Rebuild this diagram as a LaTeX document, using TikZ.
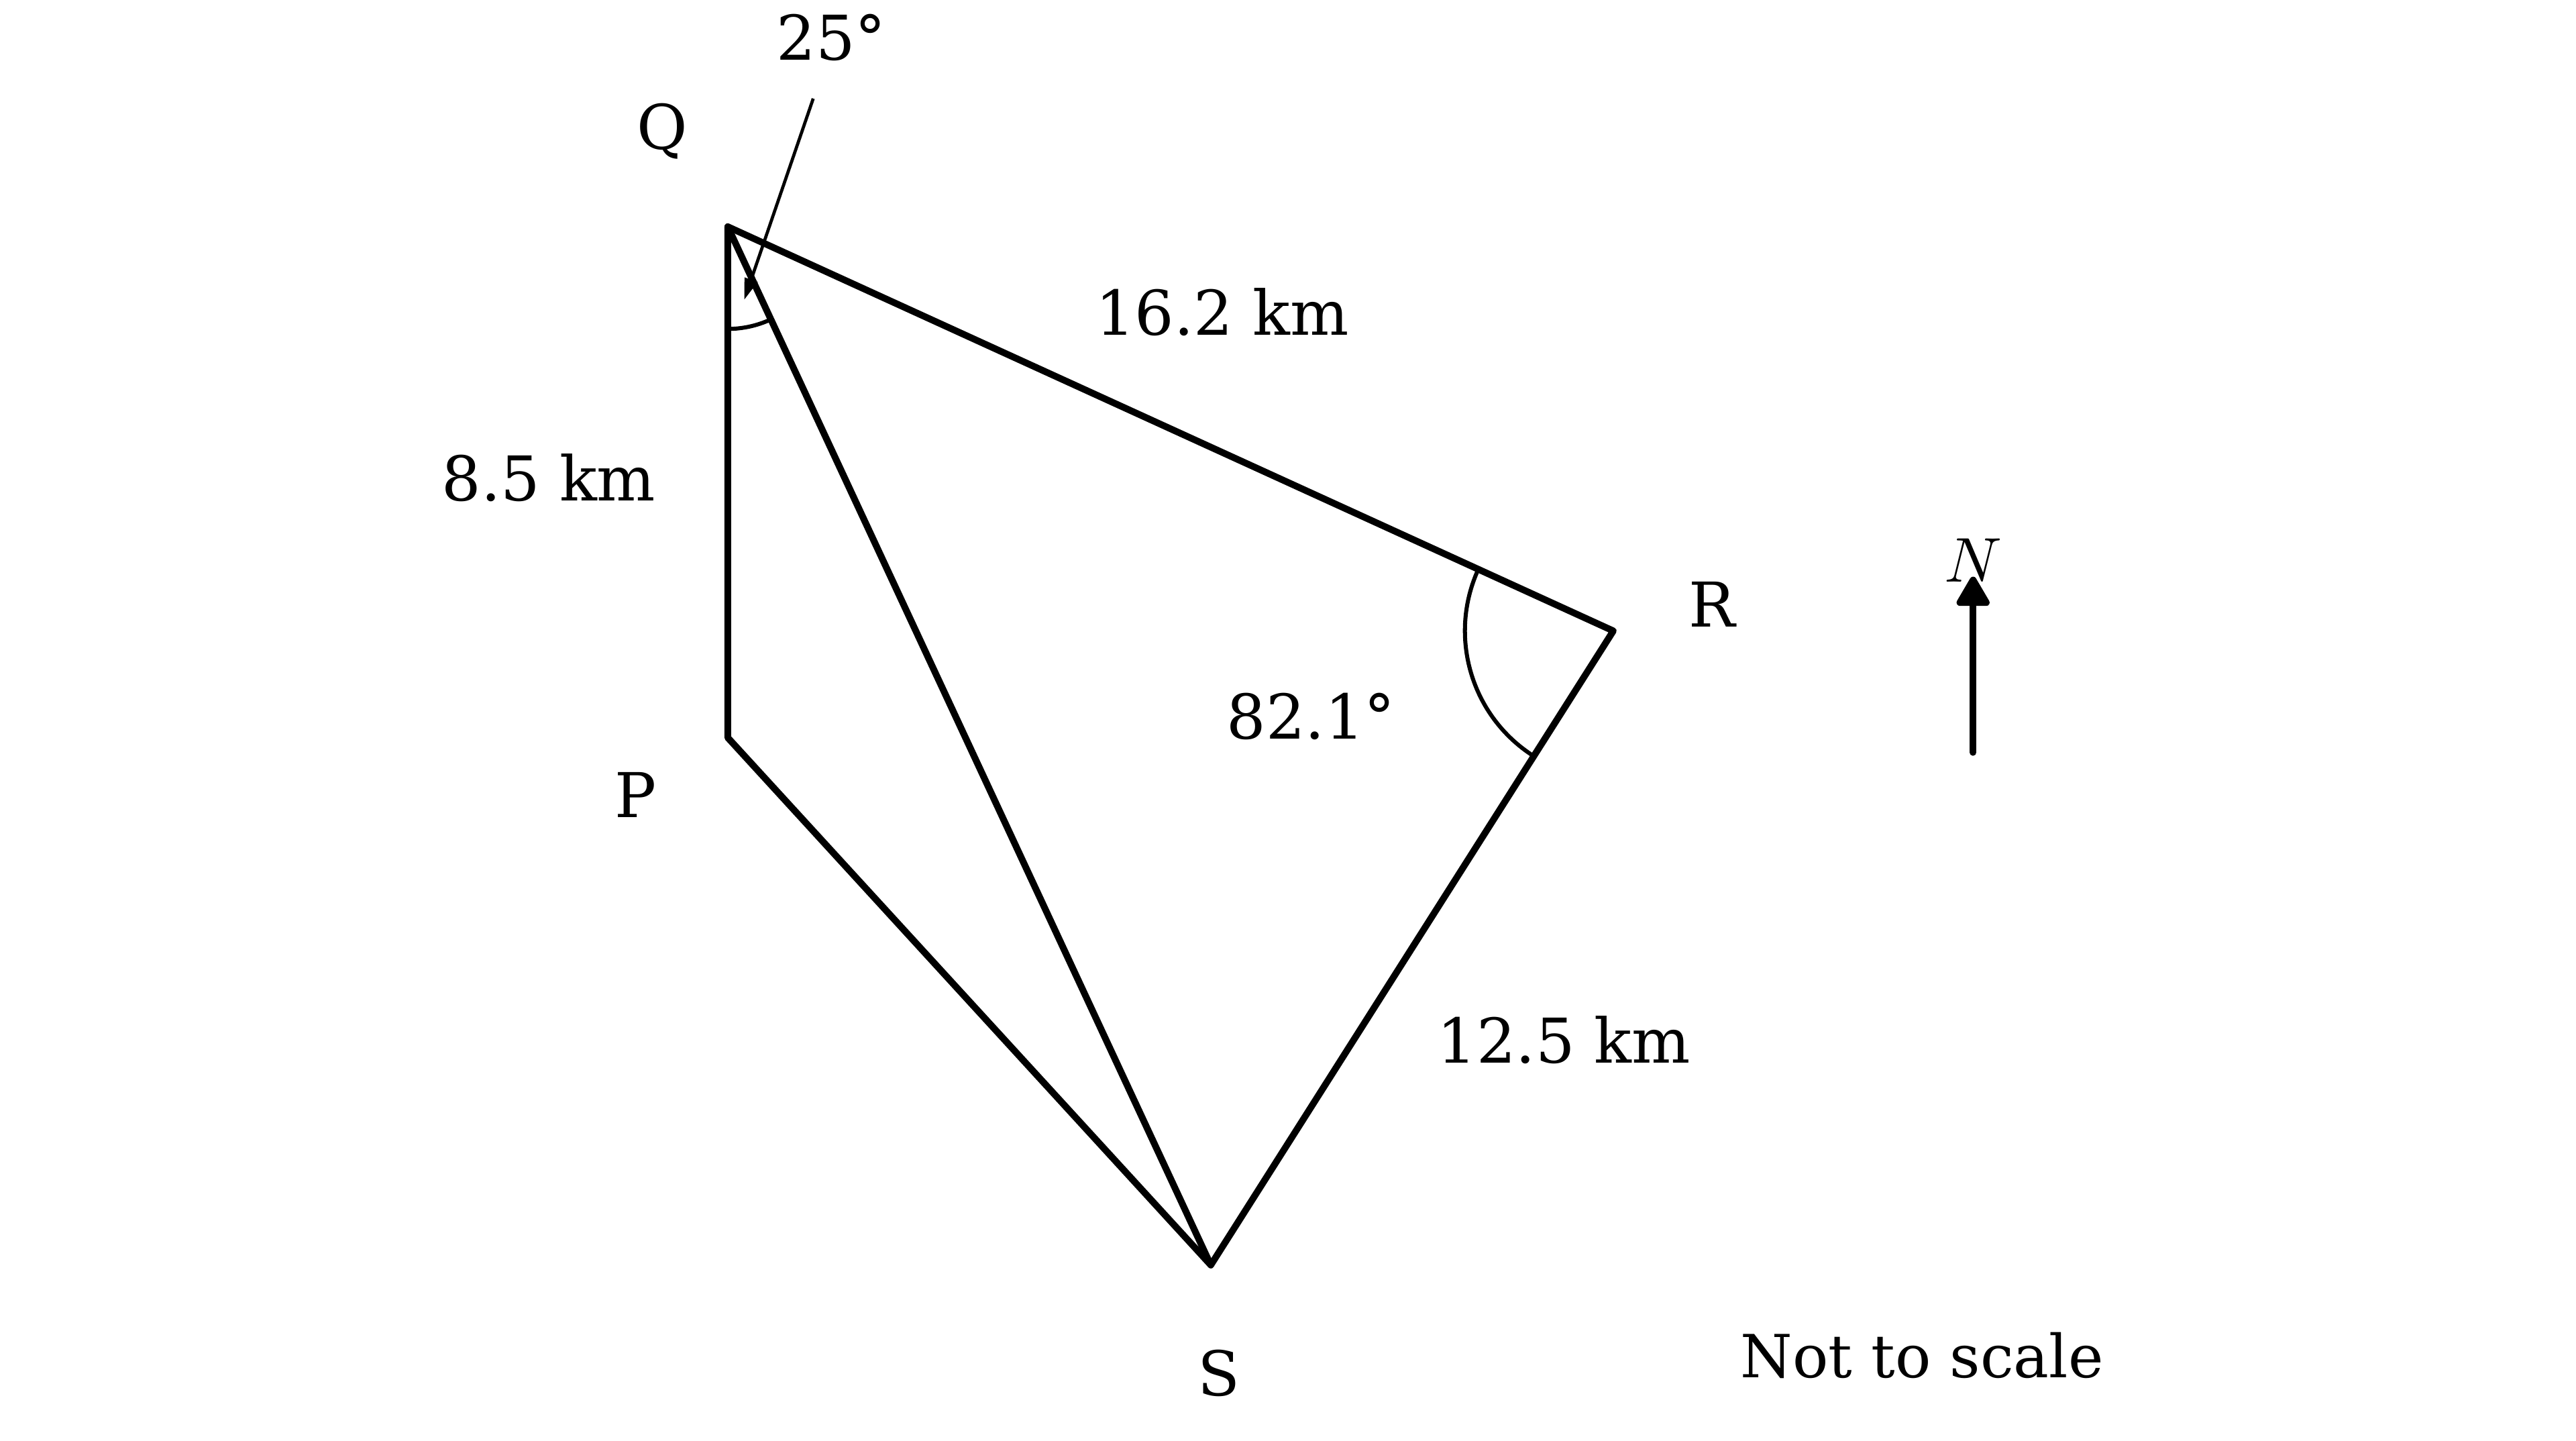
\documentclass[tikz,border=0pt]{standalone}
\usepackage{amsmath}
\usepackage{fontspec}
\setmainfont{DejaVu Serif}
\usepackage{tikz}
\usetikzlibrary{arrows.meta, calc, angles}

\tikzset{
    side/.style={line width=1.16pt, line join=round, line cap=round},
    mark arc/.style={draw, line width=0.7pt},
    lbl/.style={font=\fontsize{10.7}{12.8}\selectfont, inner sep=0pt}
}

\begin{document}
\begin{tikzpicture}
    \useasboundingbox (0,0) rectangle (15.68,8.77);

    % Points of the route
    \coordinate (Q) at (4.43,7.39);
    \coordinate (P) at (4.43,4.28);
    \coordinate (S) at (7.37,1.07);
    \coordinate (R) at (9.82,4.93);

    % Quadrilateral and diagonal
    \draw[side] (P) -- (Q) -- (R) -- (S) -- cycle;
    \draw[side] (Q) -- (S);

    % Angles
    \pic[mark arc, angle radius=17.7pt] {angle = P--Q--S};
    \pic[mark arc, angle radius=25.7pt] {angle = Q--R--S};

    % Vertex labels
    \node[lbl] (labQ) at (4.03,7.97) {$\mathrm{Q}$};
    \node[lbl] (labP) at (3.87,3.93) {$\mathrm{P}$};
    \node[lbl] (labS) at (7.42,0.41) {$\mathrm{S}$};
    \node[lbl] (labR) at (10.42,5.09) {$\mathrm{R}$};

    % Lengths and angles
    \node[lbl] (lenQR) at (7.44,6.87) {16.2 km};
    \node[lbl] (lenPQ) at (3.34,5.86) {8.5 km};
    \node[lbl] (lenRS) at (9.52,2.44) {12.5 km};
    \node[lbl] (angR) at (7.98,4.41) {82.1°};
    \node[lbl] (angQ) at (5.06,8.54) {25°};

    % Pointer to the angle at Q
    \coordinate (ptrA) at (4.95,8.17);
    \coordinate (ptrB) at (4.53,6.945);
    \draw[line width=0.55pt, -{Triangle[length=1.3mm, width=0.8mm]}] (ptrA) -- (ptrB);

    % North arrow
    \coordinate (nA) at (12.01,4.19);
    \coordinate (nB) at (12.01,5.26);
    \draw[side, -{Triangle[length=2mm, width=2.2mm, round]}] (nA) -- (nB);
    \node[lbl] (north) at (12.01,5.36) {$N$};

    % Label
    \node[lbl, font=\fontsize{10.3}{12.4}\selectfont] (note) at (11.70,0.52) {Not to scale};
\end{tikzpicture}
\end{document}
